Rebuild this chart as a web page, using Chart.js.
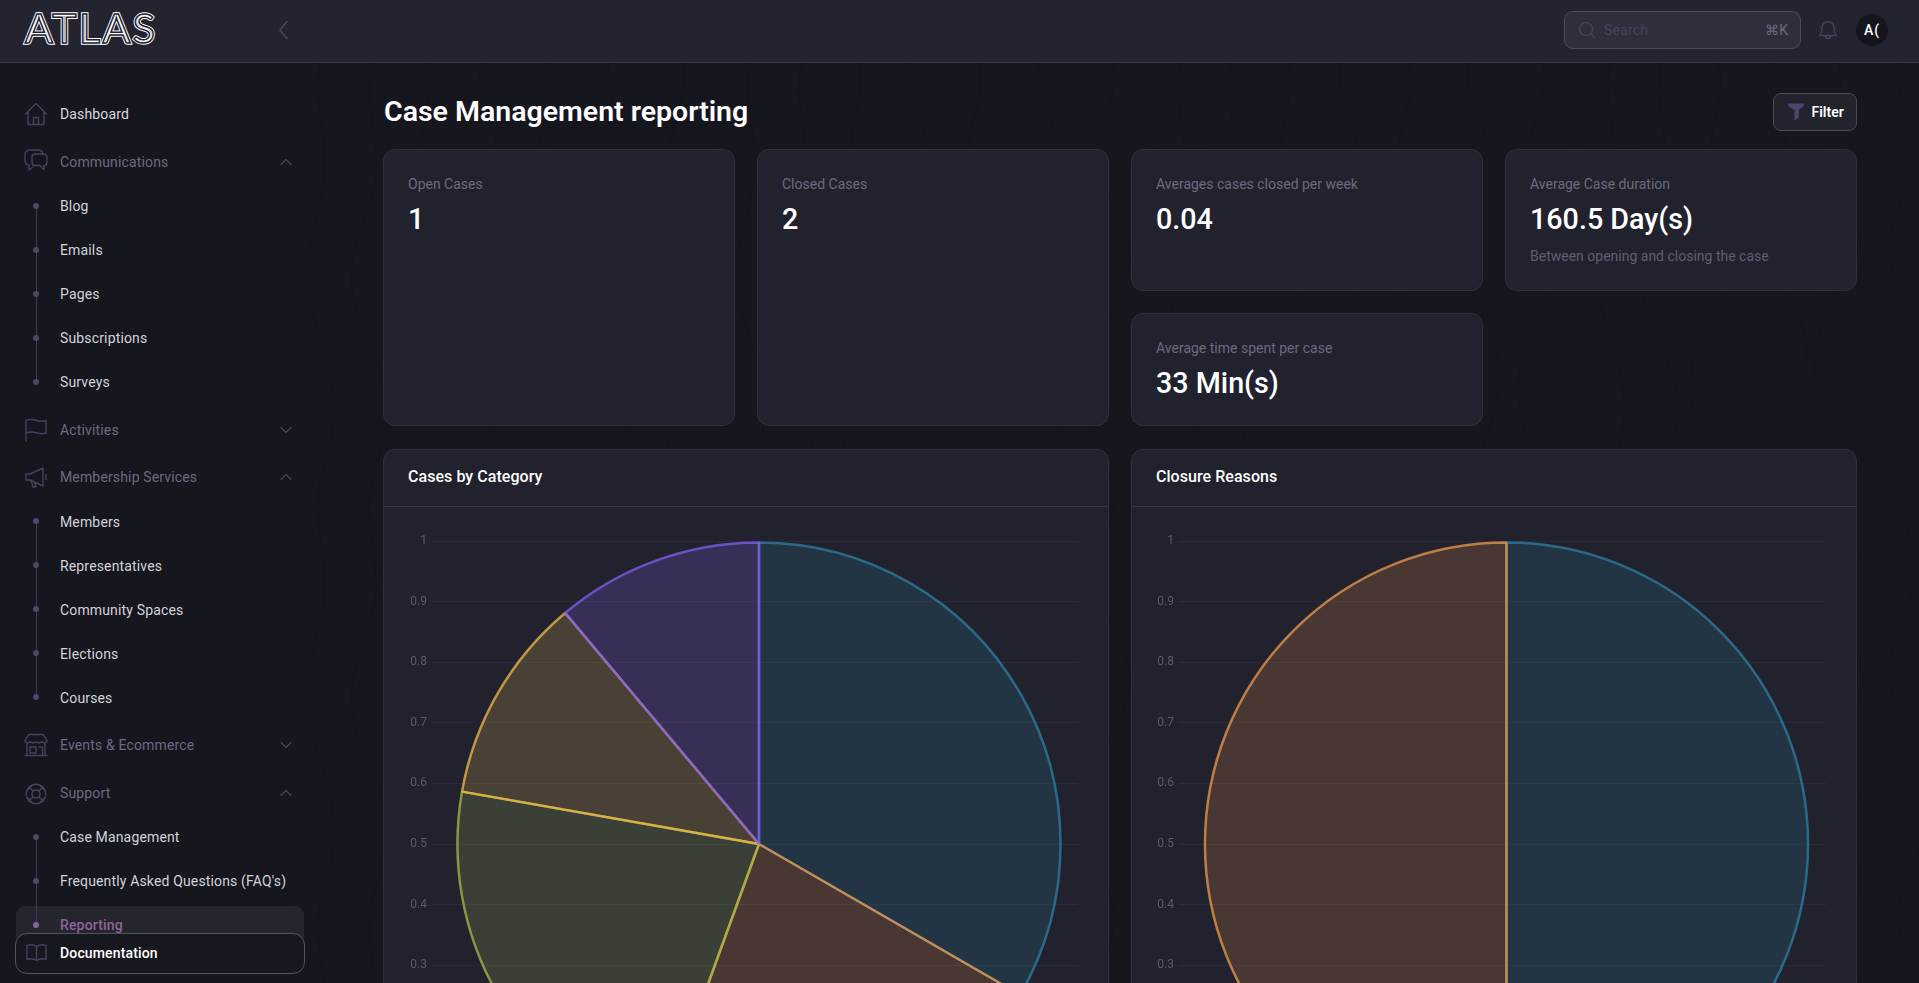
<!DOCTYPE html>
<html><head><meta charset="utf-8">
<script src="https://cdn.jsdelivr.net/npm/chart.js@4"></script>
<style>
*{box-sizing:border-box}
html,body{margin:0;width:1919px;height:983px;overflow:hidden;background:#16161f;font-family:Roboto,sans-serif;-webkit-font-smoothing:antialiased}
.abs,.t{position:absolute}
.t{white-space:nowrap;transform:translateY(-50%);line-height:1.2}
#topo{position:absolute;left:310px;top:62px;width:1609px;height:921px}
#bar{position:absolute;left:0;top:0;width:1919px;height:63px;background:#232430;border-bottom:1px solid #383944}
.card{position:absolute;background:#21222d;border:1px solid #2f303b;border-radius:12px}
.lab{font-size:14px;color:#6b6a80}
.val{font-size:28.7px;font-weight:500;color:#fff}
.sec{font-size:14px;color:#6b6a80;font-weight:400;left:60px;letter-spacing:.15px}
.sub{font-size:14px;color:#d2d2da;left:60px;font-weight:400;letter-spacing:.15px}
.ct{font-size:16px;font-weight:500;color:#fff;letter-spacing:.05px}
svg.i{position:absolute;fill:none;stroke:#45425f;stroke-width:1.4;stroke-linecap:round;stroke-linejoin:round}
.dot{position:absolute;left:33px;width:6px;height:6px;border-radius:50%;background:#4c4868}
.vl{position:absolute;left:35.5px;width:1px;background:#3c3a55}
canvas{position:absolute;display:block}
</style></head><body>
<svg id="topo" xmlns="http://www.w3.org/2000/svg">
<defs><pattern id="p" width="430" height="420" patternUnits="userSpaceOnUse">
<g fill="none" stroke="#0e0e15" stroke-width="1" opacity=".5">
<path d="M10 0C2 50 22 80 12 130S-12 210 8 270 30 360 10 420"/>
<path d="M62 0C50 45 78 90 60 140S30 220 58 280 82 350 62 420"/>
<path d="M118 0C130 40 96 85 116 130S150 200 112 260 92 350 118 420"/>
<path d="M172 0C160 30 196 62 182 100S140 150 176 210 216 300 190 350 160 390 172 420"/>
<path d="M238 0C250 50 216 70 232 120S276 170 240 230 206 320 244 370 250 400 238 420"/>
<path d="M300 0C288 42 330 60 312 110S276 190 306 240 340 330 298 420"/>
<path d="M372 0C384 36 344 80 366 128S404 196 370 254 346 356 372 420"/>
<path d="M0 90C60 70 110 130 180 104S300 50 430 90" opacity=".6"/>
<path d="M0 320C70 290 120 360 210 330S340 290 430 320" opacity=".6"/>
<path d="M205 170C235 155 270 175 262 205S220 240 200 220 185 180 205 170Z"/>
</g></pattern></defs>
<rect width="100%" height="100%" fill="url(#p)"/>
</svg>

<div id="bar"></div>
<svg class="abs" style="left:22px;top:8px" width="142" height="40" font-family="Lato" font-size="41" font-weight="400"><text x="3" y="35" textLength="130" lengthAdjust="spacing" fill="none" stroke="#fff" stroke-width="3.400">ATLAS</text><text x="3" y="35" textLength="130" lengthAdjust="spacing" fill="none" stroke="#232430" stroke-width="1.500">ATLAS</text></svg>
<svg class="i" style="left:277px;top:20px;stroke:#4a4766" width="14" height="20"><path d="M10 1.500 3 10l7 8.500"/></svg>
<div class="abs" style="left:1564px;top:11px;width:237px;height:38px;background:#2e2f3c;border:1px solid #4c4c5a;border-radius:9px"></div>
<svg class="i" style="left:1578px;top:21px" width="18" height="18"><circle cx="8" cy="8" r="6.500"/><path d="m13 13 3.500 3.500"/></svg>
<div class="t" style="left:1604px;top:30px;font-size:14px;color:#45425f;letter-spacing:.2px">Search</div>
<div class="t" style="right:131px;top:30px;font-size:14px;color:#6b6a80">⌘K</div>
<svg class="i" style="left:1818px;top:19px" width="20" height="23"><path d="M1.500 16.500c1.800-1.800 2.300-3.500 2.300-7.500a6.200 6.200 0 0 1 12.400 0c0 4 .5 5.700 2.300 7.500zM7.500 17a2.500 2.500 0 0 0 5 0"/></svg>
<div class="abs" style="left:1856px;top:14px;width:32px;height:32px;border-radius:50%;background:#15151f"></div>
<div class="t" style="left:1864px;top:30px;font-size:14px;color:#fff;font-weight:500;letter-spacing:1px">A(</div>

<div class="t" id="title" style="left:384px;top:111.500px;font-size:28.500px;font-weight:600;color:#fff">Case Management reporting</div>
<div class="abs" style="left:1773px;top:93px;width:84px;height:38px;background:#23232e;border:1px solid #4a4a54;border-radius:8px"></div>
<svg class="abs" style="left:1787px;top:103px" width="18" height="19"><path d="M1 0.500h16c.5 3-2.500 4.500-5.200 6.500v7.500L7.500 18V7C4 5 .500 3.500 1 .5z" fill="#4b4670"/></svg>
<div class="t" style="left:1811.500px;top:112px;font-size:14px;font-weight:600;color:#fff">Filter</div>

<div class="card" style="left:383px;top:149px;width:352px;height:277px"></div>
<div class="t lab" style="left:408px;top:184px">Open Cases</div><div class="t val" style="left:408px;top:219px">1</div>
<div class="card" style="left:757px;top:149px;width:352px;height:277px"></div>
<div class="t lab" style="left:782px;top:184px">Closed Cases</div><div class="t val" style="left:782px;top:219px">2</div>
<div class="card" style="left:1131px;top:149px;width:352px;height:142px"></div>
<div class="t lab" style="left:1156px;top:184px">Averages cases closed per week</div><div class="t val" style="left:1156px;top:219px">0.04</div>
<div class="card" style="left:1505px;top:149px;width:352px;height:142px"></div>
<div class="t lab" style="left:1530px;top:184px">Average Case duration</div><div class="t val" style="left:1530px;top:219px">160.5 Day(s)</div>
<div class="t lab" style="left:1530px;top:256px;color:#5f5e73">Between opening and closing the case</div>
<div class="card" style="left:1131px;top:313px;width:352px;height:113px"></div>
<div class="t lab" style="left:1156px;top:348px">Average time spent per case</div><div class="t val" style="left:1156px;top:383px">33 Min(s)</div>

<div class="card" style="left:383px;top:449px;width:726px;height:600px"><div class="abs" style="left:0;right:0;top:56px;height:1px;background:#353642"></div></div>
<div class="t ct" style="left:408px;top:477px">Cases by Category</div>
<div class="card" style="left:1131px;top:449px;width:726px;height:600px"><div class="abs" style="left:0;right:0;top:56px;height:1px;background:#353642"></div></div>
<div class="t ct" style="left:1156px;top:477px">Closure Reasons</div>
<canvas id="c1" width="667" height="630" style="left:411px;top:529px"></canvas>
<canvas id="c2" width="668" height="630" style="left:1158px;top:529px"></canvas>

<!-- sidebar -->
<div class="vl" style="top:206px;height:176px"></div>
<div class="vl" style="top:521px;height:176px"></div>
<div class="abs" style="left:16px;top:906px;width:288px;height:40px;background:#25252d;border-radius:9px"></div>
<div class="vl" style="top:837px;height:88px"></div>
<div class="dot" style="top:203px"></div><div class="dot" style="top:247px"></div><div class="dot" style="top:291px"></div><div class="dot" style="top:335px"></div><div class="dot" style="top:379px"></div>
<div class="dot" style="top:518px"></div><div class="dot" style="top:562px"></div><div class="dot" style="top:606px"></div><div class="dot" style="top:650px"></div><div class="dot" style="top:694px"></div>
<div class="dot" style="top:834px"></div><div class="dot" style="top:878px"></div><div class="dot" style="top:922px;background:#8c649c"></div>

<svg class="i" style="left:24px;top:102px" width="24" height="24"><path d="M1.500 12 12 1.500 22.500 12M4 10v12.500h16V10M9.500 22.500v-7h5v7"/></svg>
<div class="t sec" style="top:114px;color:#d6d6de">Dashboard</div>
<svg class="i" style="left:24px;top:149px" width="24" height="24"><path d="M5 16C2 16 1 14 1 11V6c0-3 2-5 5-5h8c3 0 4.500 1.500 5 3.500M5 16l0 5 4-3M8 8c0-2 1-3 3-3h8c3 0 4 1.500 4 4v4c0 2.500-1 3.500-3 3.500v4l-4-4h-5c-2 0-3-1-3-3.500z"/></svg>
<div class="t sec" style="top:162px">Communications</div>
<svg class="i" style="left:280px;top:158px" width="12" height="8"><path d="m1 6.500 5-5 5 5"/></svg>
<div class="t sub" style="top:206px">Blog</div><div class="t sub" style="top:250px">Emails</div><div class="t sub" style="top:294px">Pages</div><div class="t sub" style="top:338px">Subscriptions</div><div class="t sub" style="top:382px">Surveys</div>
<svg class="i" style="left:24px;top:418px" width="24" height="24"><path d="M2 23V2.500c5-2 8-1 11 0s6 1 9 0V15c-3 1-6 1-9 0s-7-1.500-11 0"/></svg>
<div class="t sec" style="top:430px">Activities</div>
<svg class="i" style="left:280px;top:426px" width="12" height="8"><path d="m1 1.500 5 5 5-5"/></svg>
<svg class="i" style="left:24px;top:465px" width="24" height="24"><path d="M2 9v6h4l13 6V3L6 9zM22 9.500v5M7 15l2 7h3l-2-5.500"/></svg>
<div class="t sec" style="top:477px">Membership Services</div>
<svg class="i" style="left:280px;top:473px" width="12" height="8"><path d="m1 6.500 5-5 5 5"/></svg>
<div class="t sub" style="top:521.500px">Members</div><div class="t sub" style="top:565.500px">Representatives</div><div class="t sub" style="top:609.500px">Community Spaces</div><div class="t sub" style="top:653.500px">Elections</div><div class="t sub" style="top:697.500px">Courses</div>
<svg class="i" style="left:24px;top:733px" width="24" height="24"><path d="M5 1.500h14l4 6c0 2.500-3.500 3-5.500 1-1.500 2-3.500 2-5.500 0-2 2-4 2-5.500 0-2 2-5.500 1.500-5.500-1zM3 11v11.500h18V11M1 22.500h22M6 14h6v6H6zM15 14h3.500v8.500H15"/></svg>
<div class="t sec" style="top:745px">Events &amp; Ecommerce</div>
<svg class="i" style="left:280px;top:741px" width="12" height="8"><path d="m1 1.500 5 5 5-5"/></svg>
<svg class="i" style="left:25px;top:783px" width="22" height="22"><circle cx="11" cy="11" r="9.800"/><circle cx="11" cy="11" r="4"/><path d="m4 4 4.200 4.200M18 4l-4.200 4.200M4 18l4.200-4.200M18 18l-4.200-4.200M7 2.500 2.500 7M15 2.500 19.500 7M7 19.500 2.500 15M15 19.500l4.500-4.500"/></svg>
<div class="t sec" style="top:793px">Support</div>
<svg class="i" style="left:280px;top:789px" width="12" height="8"><path d="m1 6.500 5-5 5 5"/></svg>
<div class="t sub" style="top:837px">Case Management</div><div class="t sub" style="top:881px">Frequently Asked Questions (FAQ's)</div>
<div class="t sub" style="top:925px;color:#8c649c;font-weight:500">Reporting</div>
<div class="abs" style="left:15px;top:933px;width:290px;height:41px;background:#171720;border:1px solid #55555e;border-radius:12px"></div>
<svg class="i" style="left:26px;top:943px" width="21" height="20"><path d="M10.500 3.500C7.500 1.500 4 1.500 1 2.500v14c3-1 6.500-1 9.500 1 3-2 6.500-2 9.500-1v-14c-3-1-6.500-1-9.500 1zM10.500 3.500v14"/></svg>
<div class="t" style="left:60px;top:953px;font-size:14px;font-weight:500;color:#fff;letter-spacing:.15px">Documentation</div>

<script>
const categoryLabels = ['Category A','Category B','Category C','Category D','Category E'];
const categoryCases = [3,2,2,1,1];
const reasonLabels = ['Reason A','Reason B'];
const reasonCases = [1,1];
const sliceBorders = ['rgba(47,123,159,.78)','rgba(237,154,76,.75)','rgba(164,188,68,.75)','rgba(242,184,75,.75)','rgba(127,92,234,.78)'];
const sliceFills = ['rgba(47,123,159,.2)','rgba(252,153,79,.18)','rgba(162,183,89,.2)','rgba(255,203,100,.18)','rgba(152,98,254,.2)'];

function pie(id, labels, values){
  return new Chart(document.getElementById(id),{
    type:'pie',
    data:{labels,datasets:[{data:values,backgroundColor:sliceFills,borderColor:sliceBorders,borderWidth:2.5}]},
    options:{
      responsive:false,animation:false,devicePixelRatio:1,
      layout:{padding:{top:4.7}},
      plugins:{legend:{display:false},tooltip:{enabled:false}},
      scales:{y:{
        display:true,min:0,max:1,
        afterFit:s=>{s.width=29},
        border:{display:false},
        grid:{color:'#2a2a38',lineWidth:1},
        ticks:{stepSize:.1,padding:5,color:'#5a596e',font:{family:'Roboto',size:12},callback:v=>String(+v.toFixed(1))}
      }}
    }
  });
}
pie('c1',categoryLabels,categoryCases);
pie('c2',reasonLabels,reasonCases);
</script>
</body></html>
